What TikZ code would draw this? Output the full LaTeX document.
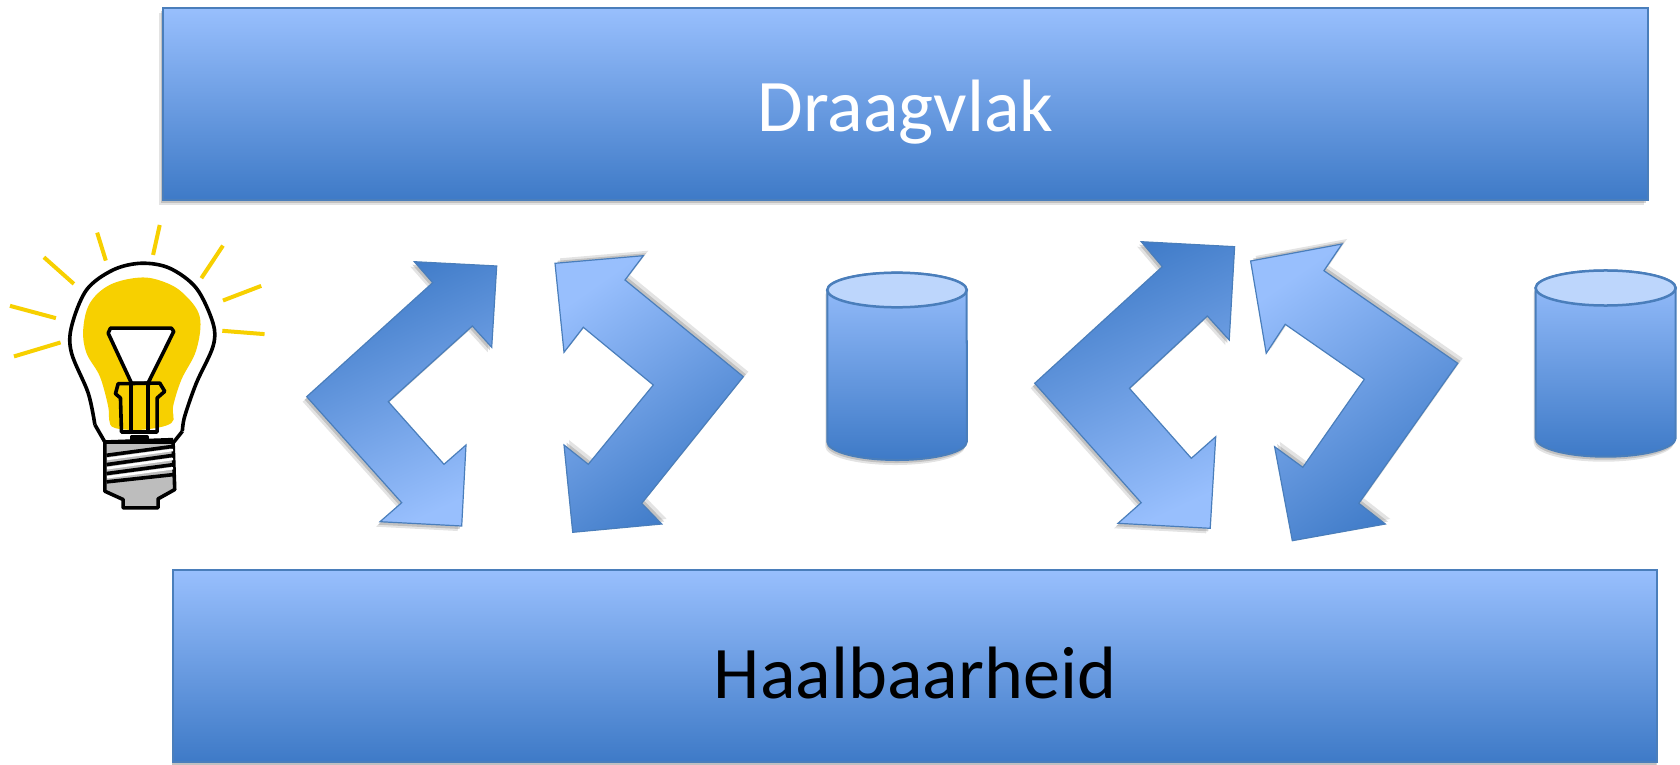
\documentclass[tikz,border=0pt]{standalone}
\usepackage{fontspec}
\setmainfont{Carlito}
\usetikzlibrary{shadows}

\definecolor{lightblue}{HTML}{98BFFD}
\definecolor{darkblue}{HTML}{3E7AC7}
\definecolor{edgeblue}{HTML}{4A7EBB}
\definecolor{capblue}{HTML}{BDD6FC}
\definecolor{lampyellow}{HTML}{F7D000}
\definecolor{basegray}{HTML}{BDBDBD}

\tikzset{
  softshadow/.style={
    drop shadow={shadow xshift=#1*2, shadow yshift=-0.05cm, opacity=0.22, fill=gray},
    drop shadow={shadow xshift=#1, shadow yshift=-0.03cm, opacity=0.35, fill=gray}},
  upshadow/.style={
    drop shadow={shadow xshift=0.05cm, shadow yshift=0.05cm, opacity=0.22, fill=gray},
    drop shadow={shadow xshift=0.025cm, shadow yshift=0.025cm, opacity=0.35, fill=gray}},
  bar/.style={rectangle, draw=edgeblue, line width=0.02cm, top color=lightblue, middle color=lightblue!58!darkblue, bottom color=darkblue,
    minimum width=14.84cm, minimum height=1.92cm, inner sep=0pt, text depth=0pt, font=\fontsize{21.1}{22}\selectfont},
  arrowdark/.style={draw=edgeblue, line width=0.012cm, top color=darkblue, middle color=darkblue!92!lightblue, bottom color=lightblue, shading angle=25, softshadow=-0.02cm},
  arrowlight/.style={draw=edgeblue, line width=0.012cm, top color=lightblue, middle color=darkblue!85!lightblue, bottom color=darkblue, shading angle=35, upshadow},
  drum/.style={draw=edgeblue, line width=0.02cm, top color=lightblue, middle color=lightblue!58!darkblue, bottom color=darkblue, softshadow=-0.01cm},
  drumcap/.style={draw=edgeblue, line width=0.025cm, fill=capblue},
  ray/.style={draw=lampyellow, line width=0.04cm},
  lampline/.style={draw=black, line width=0.036cm, line join=round},
}

\begin{document}
\begin{tikzpicture}[x=0.01cm, y=-0.01cm]
  \useasboundingbox (0,0) rectangle (1680,764);

  % top and bottom bars
  \node[bar, softshadow=-0.02cm, text=white, text height=0.54cm] (draagvlak) at (905.5,104) {Draagvlak};
  \node[bar, softshadow=-0.005cm, text=black, text height=0.64cm] (haalbaarheid) at (915,666) {Haalbaarheid};

  % first pair of arrows
  \path[arrowdark] (496.7,266) -- (491.7,347.3) -- (472.3,326) -- (388.3,401.7) -- (444,464.3) -- (466,445)
    -- (461.7,526) -- (380,521.7) -- (401.7,502.7) -- (306.7,396.7) -- (432.7,282.7) -- (414.3,261.7) -- cycle;
  \path[arrowlight] (555,263.3) -- (643.3,255.7) -- (625,280) -- (743.3,376.7) -- (641.7,503.3) -- (661.7,524)
    -- (572.7,532.3) -- (564,445) -- (588.3,464.3) -- (653.3,385) -- (583.3,327.3) -- (564,352.3) -- cycle;

  % second pair of arrows
  \path[arrowdark] (1234.6,246.7) -- (1229.2,340) -- (1207.3,316) -- (1129.4,388.3) -- (1191.3,458.3) -- (1215.7,436.7)
    -- (1210.2,528.3) -- (1118,523.3) -- (1141.2,502.7) -- (1034.7,383.3) -- (1162.3,266.7) -- (1141.2,241.7) -- cycle;
  \path[arrowlight] (1250.6,261) -- (1342,244) -- (1323.9,270.7) -- (1457.7,363.3) -- (1358.8,503.3) -- (1385.3,524)
    -- (1292.3,540.7) -- (1274.6,446.7) -- (1302.8,467.3) -- (1364.3,379.3) -- (1285.2,324.3) -- (1266.2,353.3) -- cycle;

  % drums
  \path[drum] (827.3,290) -- (827.3,441.7) arc[start angle=180, end angle=360, x radius=0.697cm, y radius=0.183cm]
    -- (966.7,290) arc[start angle=0, end angle=180, x radius=0.697cm, y radius=0.173cm] -- cycle;
  \path[drumcap] (897,290) ellipse[x radius=0.697cm, y radius=0.173cm];
  \path[drum] (1535.6,288) -- (1535.6,438) arc[start angle=180, end angle=360, x radius=0.70cm, y radius=0.187cm]
    -- (1675.7,288) arc[start angle=0, end angle=180, x radius=0.70cm, y radius=0.175cm] -- cycle;
  \path[drumcap] (1605.6,288) ellipse[x radius=0.70cm, y radius=0.175cm];

  % lamp, in coordinates of a 3x enlargement
  \begin{scope}[shift={(0,210)}, x=0.003333cm, y=-0.003333cm]
    \foreach \ax/\ay/\bx/\by in {30/288/168/325, 42/440/182/398, 132/142/222/222, 292/68/318/152,
      480/45/460/135, 670/107/605/205, 785/228/670/272, 668/363/795/373}
      \draw[ray] (\ax,\ay) -- (\bx,\by);
    \fill[lampyellow] plot[smooth cycle, tension=0.6] coordinates {(420,203) (490,215) (550,250) (600,320)
      (590,420) (545,510) (520,590) (515,640) (430,660) (345,655) (328,630) (325,590) (300,500) (260,430)
      (250,360) (270,280) (330,225)};
    \draw[lampline] plot[smooth, tension=0.55] coordinates {(285,645) (265,550) (215,430) (215,350) (260,240)
      (340,180) (425,160) (510,175) (590,235) (640,340) (640,410) (590,520) (555,620) (548,665)};
    \draw[lampline] (285,645) -- (315,697) (548,665) -- (520,700);
    \draw[lampline, fill=white] (332,355) -- (515,355) -- (522,365) -- (445,520) -- (395,520) -- (325,370) -- cycle;
    \draw[lampline] (393,520) -- (393,670) (445,520) -- (445,670);
    \draw[lampline] (355,522) -- (480,520) -- (495,545) -- (472,565) -- (472,667) -- (365,667) -- (362,565) -- (347,552) -- cycle;
    \draw[lampline, fill=black] (395,682) rectangle (442,688);
    \draw[lampline, fill=basegray] (315,697) -- (520,697) -- (525,840) -- (475,868) -- (475,895) -- (370,895)
      -- (370,870) -- (315,845) -- cycle;
    \foreach \ly/\ry in {748/721, 776/748, 803/776}
      \draw[white, line width=0.025cm] (322,\ly) -- (520,\ry);
    \draw[lampline] (320,697) -- (520,690) (320,737) -- (522,710) (320,765) -- (522,737)
      (320,792) -- (522,765) (320,817) -- (522,795);
  \end{scope}
\end{tikzpicture}
\end{document}
